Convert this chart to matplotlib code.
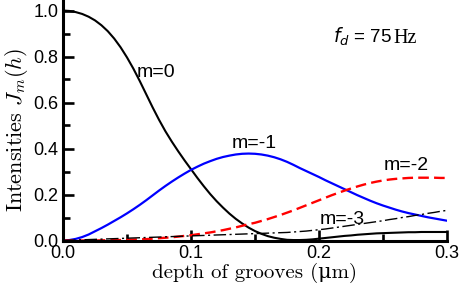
import matplotlib
matplotlib.use("Agg")
import matplotlib.pyplot as plt
from matplotlib.ticker import MultipleLocator

# ---- data ----
h = [0.000, 0.005, 0.010, 0.015, 0.020, 0.025, 0.030, 0.035, 0.040, 0.045,
     0.050, 0.055, 0.060, 0.065, 0.070, 0.075, 0.080, 0.085, 0.090, 0.095,
     0.100, 0.105, 0.110, 0.115, 0.120, 0.125, 0.130, 0.135, 0.140, 0.145,
     0.150, 0.155, 0.160, 0.165, 0.170, 0.175, 0.180, 0.185, 0.190, 0.195,
     0.200, 0.205, 0.210, 0.215, 0.220, 0.225, 0.230, 0.235, 0.240, 0.245,
     0.250, 0.255, 0.260, 0.265, 0.270, 0.275, 0.280, 0.285, 0.290, 0.295,
     0.300]

m0 = [1.000, 0.998, 0.993, 0.985, 0.973, 0.957, 0.936, 0.910, 0.878, 0.840,
      0.796, 0.747, 0.693, 0.636, 0.579, 0.525, 0.475, 0.430, 0.388, 0.348,
      0.310, 0.272, 0.236, 0.202, 0.171, 0.143, 0.117, 0.094, 0.074, 0.056,
      0.041, 0.029, 0.019, 0.012, 0.007, 0.003, 0.002, 0.002, 0.003, 0.005,
      0.008, 0.011, 0.014, 0.017, 0.020, 0.022, 0.025, 0.027, 0.029, 0.031,
      0.032, 0.033, 0.034, 0.035, 0.036, 0.036, 0.037, 0.037, 0.037, 0.037,
      0.037]

m_1 = [0.000, 0.002, 0.007, 0.015, 0.026, 0.040, 0.054, 0.069, 0.085, 0.101,
       0.118, 0.136, 0.155, 0.175, 0.196, 0.217, 0.237, 0.256, 0.274, 0.291,
       0.307, 0.321, 0.334, 0.345, 0.355, 0.363, 0.369, 0.374, 0.377, 0.378,
       0.377, 0.374, 0.369, 0.362, 0.353, 0.342, 0.329, 0.315, 0.302, 0.289,
       0.276, 0.262, 0.249, 0.236, 0.223, 0.210, 0.197, 0.185, 0.173, 0.162,
       0.152, 0.143, 0.134, 0.126, 0.119, 0.113, 0.107, 0.101, 0.096, 0.091,
       0.086]

m_2 = [0.000, 0.000, 0.000, 0.000, 0.000, 0.000, 0.001, 0.001, 0.002, 0.002,
       0.003, 0.004, 0.005, 0.006, 0.008, 0.010, 0.012, 0.014, 0.017, 0.020,
       0.023, 0.027, 0.031, 0.035, 0.040, 0.045, 0.051, 0.057, 0.064, 0.071,
       0.077, 0.085, 0.093, 0.102, 0.111, 0.121, 0.131, 0.142, 0.153, 0.164,
       0.175, 0.186, 0.197, 0.207, 0.217, 0.226, 0.235, 0.243, 0.250, 0.256,
       0.261, 0.265, 0.268, 0.270, 0.272, 0.273, 0.273, 0.273, 0.273, 0.272,
       0.272]

m_3 = [0.000, 0.001, 0.002, 0.003, 0.004, 0.005, 0.006, 0.007, 0.008, 0.009,
       0.010, 0.011, 0.012, 0.013, 0.014, 0.015, 0.016, 0.017, 0.018, 0.019,
       0.020, 0.021, 0.022, 0.023, 0.024, 0.025, 0.026, 0.027, 0.028, 0.029,
       0.030, 0.031, 0.032, 0.033, 0.034, 0.035, 0.037, 0.039, 0.041, 0.044,
       0.047, 0.050, 0.054, 0.058, 0.062, 0.066, 0.070, 0.074, 0.078, 0.082,
       0.086, 0.091, 0.095, 0.100, 0.104, 0.109, 0.113, 0.118, 0.122, 0.127,
       0.131]

x_ticks = [0.0, 0.1, 0.2, 0.3]
x_tick_labels = ["0.0", "0.1", "0.2", "0.3"]
y_ticks = [0.0, 0.2, 0.4, 0.6, 0.8, 1.0]
y_tick_labels = ["0.0", "0.2", "0.4", "0.6", "0.8", "1.0"]

curve_labels = ["m=0", "m=-1", "m=-2", "m=-3"]

# ---- figure ----
W, H = 460, 284
fig = plt.figure(figsize=(W / 100, H / 100), dpi=100)
x0, x1 = 63, 447
y0 = 240.5
ax = fig.add_axes([x0 / W, (H - y0) / H, (x1 - x0) / W, y0 / H])
ax.set_xlim(0, 0.3)
ax.set_ylim(0, y0 / 230.0)

ax.plot(h, m0, color="black", lw=1.5, zorder=3)
ax.plot(h, m_1, color="#0000ff", lw=1.6, zorder=3)
ax.plot(h, m_2, color="#ff0000", lw=1.7, dashes=(4.5, 2.2), zorder=3)
ax.plot(h, m_3, color="black", lw=1.0, dashes=(9, 2.5, 1.5, 2.5), zorder=3)

for s in ["top", "right"]:
    ax.spines[s].set_visible(False)
for s in ["left", "bottom"]:
    ax.spines[s].set_linewidth(2.2)
    ax.spines[s].set_zorder(4)

ax.set_xticks(x_ticks)
ax.set_xticklabels(x_tick_labels)
ax.set_yticks(y_ticks)
ax.set_yticklabels(y_tick_labels)
ax.xaxis.set_minor_locator(MultipleLocator(0.05))
ax.yaxis.set_minor_locator(MultipleLocator(0.1))
ax.tick_params(which="major", direction="in", length=8, width=1.9, pad=3.5,
               labelsize=13)
ax.tick_params(which="minor", direction="in", length=5, width=1.9)
for lab in ax.get_xticklabels() + ax.get_yticklabels():
    lab.set_fontfamily("Liberation Sans")

# curve labels
lab_kw = dict(fontsize=14, fontfamily="Liberation Sans", va="center", ha="left",
              color="black")
ax.text(0.0576, 0.73, curve_labels[0], **lab_kw)
ax.text(0.1318, 0.42, curve_labels[1], **lab_kw)
ax.text(0.2508, 0.326, curve_labels[2], **lab_kw)
ax.text(0.2008, 0.093, curve_labels[3], **lab_kw)

# f_d annotation
ax.text(0.2570, 0.86, r"$f_d$ = 75", fontsize=13.5, fontfamily="Liberation Sans",
        math_fontfamily="dejavusans", va="baseline", ha="right")
ax.text(0.2582, 0.86, "Hz", fontsize=14.5, fontfamily="Liberation Serif",
        va="baseline", ha="left")

# axis labels (Computer Modern style)
fig.text(255 / W, (H - 278.0) / H, "depth of grooves (μm)", fontsize=15,
         fontfamily=["cmr10", "DejaVu Serif"], ha="center", va="baseline")
fig.text(17 / W, 1 - 130 / H, r"Intensities $J_m(h)$", fontsize=16,
         fontfamily="cmr10", math_fontfamily="cm", rotation=90,
         ha="center", va="center")

fig.savefig("out.png", dpi=100)
